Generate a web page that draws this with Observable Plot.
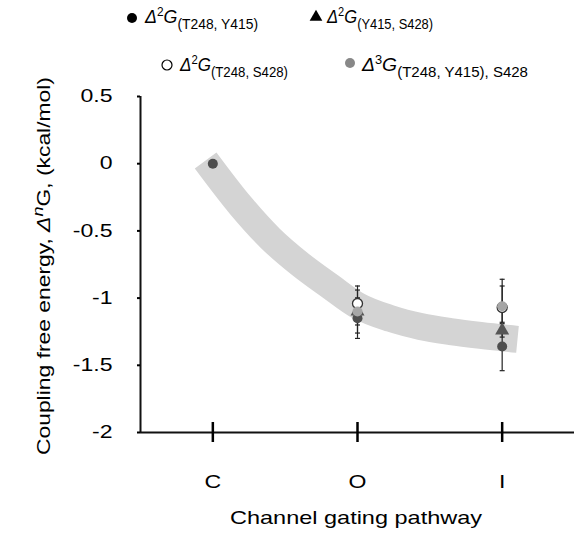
<!DOCTYPE html>
<html><head><meta charset="utf-8">
<script src="https://cdn.jsdelivr.net/npm/d3@7"></script>
<script src="https://cdn.jsdelivr.net/npm/@observablehq/plot@0.6"></script>
<style>
body{margin:0;background:#fff;}
#chart{width:574px;height:536px;}
</style></head>
<body><div id="chart"></div>
<script>
// ---- data ----
const pathways = ["C", "O", "I"];
const pathwayPos = [1, 2, 3];
const yTicks = [0.5, 0, -0.5, -1, -1.5, -2];

// Δ²G(T248, Y415)
const g2_T248_Y415 = [0.0, -1.15, -1.36];
const g2_T248_Y415_err = [0.0, 0.15, 0.18];
// Δ²G(Y415, S428)
const g2_Y415_S428 = [null, -1.10, -1.24];
const g2_Y415_S428_err = [0.0, 0.10, 0.05];
// Δ²G(T248, S428)
const g2_T248_S428 = [null, -1.04, -1.07];
const g2_T248_S428_err = [0.0, 0.13, 0.16];
// Δ³G(T248, Y415), S428
const g3_T248_Y415_S428 = [null, -1.10, -1.06];
const g3_T248_Y415_S428_err = [0.0, 0.16, 0.20];

// grey trend band (centre line)
const bandPos = [0.950, 1.191, 1.399, 1.606, 1.813, 2.000, 2.228, 2.435, 2.643, 2.850, 3.106];
const bandVal = [0.024, -0.311, -0.557, -0.750, -0.914, -1.055, -1.152, -1.211, -1.249, -1.278, -1.307];

// ---- tables ----
function rowsOf(vals, errs) {
  return pathwayPos.map((x, i) => ({x, y: vals[i], e: errs[i]})).filter(d => d.y != null);
}
const rowsA = rowsOf(g2_T248_Y415, g2_T248_Y415_err);
const rowsB = rowsOf(g2_Y415_S428, g2_Y415_S428_err);
const rowsC = rowsOf(g2_T248_S428, g2_T248_S428_err);
const rowsD = rowsOf(g3_T248_Y415_S428, g3_T248_Y415_S428_err);
const allRows = [...rowsA, ...rowsB, ...rowsC, ...rowsD].filter(d => d.e > 0);
const caps = allRows.flatMap(d => [{x: d.x, y: d.y - d.e}, {x: d.x, y: d.y + d.e}]);
const band = bandPos.map((x, i) => ({x, y: bandVal[i]}));

const capSymbol = {draw(ctx, size) { const r = Math.sqrt(size / Math.PI); ctx.moveTo(-r, 0); ctx.lineTo(r, 0); }};
const FONT = "Liberation Sans, Arial, sans-serif";

const svg = Plot.plot({
  width: 574, height: 536,
  marginLeft: 140, marginRight: 0, marginTop: 96, marginBottom: 104,
  style: {fontFamily: FONT, background: "#fff", color: "#000"},
  x: {domain: [0.5, 3.5]},
  y: {domain: [-2, 0.5]},
  marks: [
    Plot.line(band, {x: "x", y: "y", stroke: "#d4d4d4", strokeWidth: 27, curve: "monotone-x", strokeLinecap: "butt"}),
    Plot.ruleX(allRows, {x: "x", y1: d => d.y - d.e, y2: d => d.y + d.e, stroke: "#222", strokeWidth: 1.2}),
    Plot.dot(caps, {x: "x", y: "y", symbol: capSymbol, r: 2.5, fill: "none", stroke: "#222", strokeWidth: 1.2}),
    Plot.dot(rowsB, {x: "x", y: "y", symbol: "triangle", r: 5.2, fill: "#555"}),
    Plot.dot(rowsA, {x: "x", y: "y", r: 5, fill: "#4d4d4d"}),
    Plot.dot(rowsC, {x: "x", y: "y", r: 5, fill: "#fff", stroke: "#333", strokeWidth: 1.3}),
    Plot.dot(rowsD, {x: "x", y: "y", r: 5, fill: "#a6a6a6"}),
    Plot.ruleX([0.5], {stroke: "#111", strokeWidth: 2}),
    Plot.ruleY([-2], {stroke: "#111", strokeWidth: 2}),
    Plot.axisY({ticks: yTicks, tickSize: 3, tickPadding: 25, fontSize: 18, strokeWidth: 2, tickFormat: d => String(d), label: null}),
    Plot.axisX({ticks: pathwayPos, tickSize: 10, tickPadding: 33, fontSize: 18, strokeWidth: 2.5, tickFormat: (d, i) => pathways[i], label: null}),
    Plot.axisX({ticks: pathwayPos, tickSize: -10, strokeWidth: 2.5, tickFormat: () => "", label: null})
  ]
});
document.getElementById("chart").appendChild(svg);

const s = d3.select(svg);
// stretch tick labels horizontally like the reference
s.selectAll("text").each(function() {
  const t = this; const L = t.getComputedTextLength();
  if (L > 0) { t.setAttribute("textLength", L * 1.28); t.setAttribute("lengthAdjust", "spacingAndGlyphs"); }
});

// axis titles
const yt = s.append("text").attr("transform", "translate(50,266) rotate(-90)")
  .attr("text-anchor", "middle").attr("font-family", FONT).attr("font-size", 19).attr("fill", "#000");
yt.append("tspan").text("Coupling free energy, ");
yt.append("tspan").attr("font-style", "italic").text("Δ");
yt.append("tspan").attr("font-style", "italic").attr("font-size", 15).attr("dy", -7).text("n");
yt.append("tspan").attr("dy", 7).text("G, (kcal/mol)");
yt.attr("textLength", 378).attr("lengthAdjust", "spacingAndGlyphs");

s.append("text").attr("x", 356).attr("y", 524).attr("text-anchor", "middle")
  .attr("font-family", FONT).attr("font-size", 19).attr("fill", "#000")
  .attr("textLength", 252).attr("lengthAdjust", "spacingAndGlyphs")
  .text("Channel gating pathway");

// legend
const legend = [
  {sx: 132, sy: 18, sym: "dot", fill: "#000", tx: 145, ty: 23, sup: "2", sub: "(T248, Y415)", w: 113},
  {sx: 316, sy: 17, sym: "tri", fill: "#000", tx: 327, ty: 23, sup: "2", sub: "(Y415, S428)", w: 106},
  {sx: 167, sy: 65, sym: "open", fill: "#fff", tx: 180, ty: 71, sup: "2", sub: "(T248, S428)", w: 108},
  {sx: 350, sy: 63, sym: "dot", fill: "#888", tx: 362, ty: 71, sup: "3", sub: "(T248, Y415), S428", w: 166}
];
legend.forEach(l => {
  if (l.sym === "tri") {
    s.append("path").attr("transform", `translate(${l.sx},${l.sy})`).attr("d", d3.symbol(d3.symbolTriangle, 70)()).attr("fill", l.fill);
  } else {
    s.append("circle").attr("cx", l.sx).attr("cy", l.sy).attr("r", 5).attr("fill", l.fill)
      .attr("stroke", l.sym === "open" ? "#000" : "none").attr("stroke-width", 1.2);
  }
  const t = s.append("text").attr("x", l.tx).attr("y", l.ty).attr("text-anchor", "start")
    .attr("font-family", FONT).attr("font-size", 18).attr("fill", "#000");
  t.append("tspan").attr("font-style", "italic").text("Δ");
  t.append("tspan").attr("font-size", 12).attr("dy", -7).text(l.sup);
  t.append("tspan").attr("font-style", "italic").attr("dy", 7).text("G");
  t.append("tspan").attr("font-size", 14).attr("dy", 6).text(l.sub);
  t.attr("textLength", l.w).attr("lengthAdjust", "spacingAndGlyphs");
});
</script></body></html>
